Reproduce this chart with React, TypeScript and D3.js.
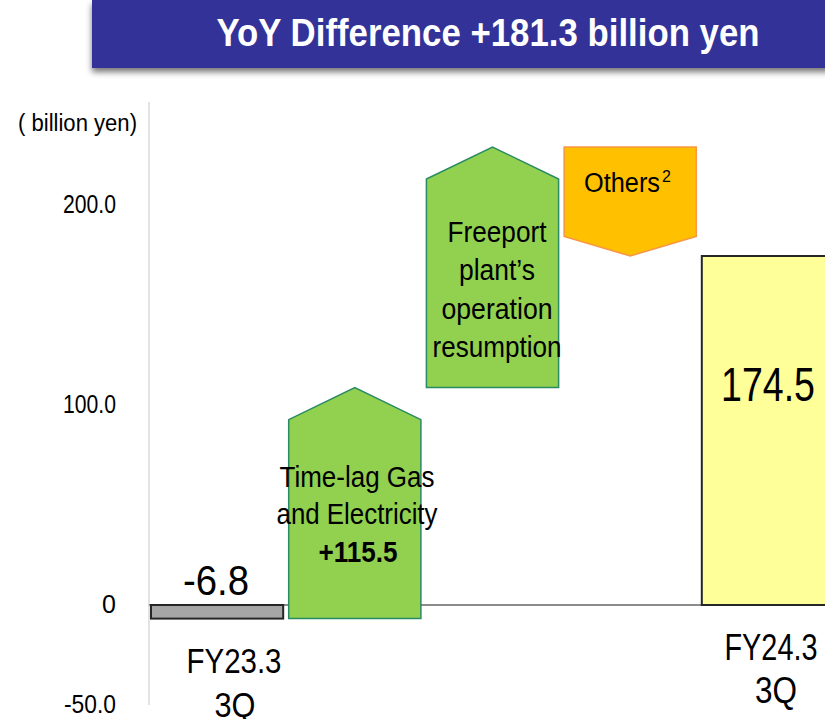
import React from "react";
import * as d3 from "d3";

// waterfall data (billion yen)
const categories = ["FY23.3 3Q", "Time-lag", "Freeport", "Others", "FY24.3 3Q"];
const kinds = ["total", "delta", "delta", "delta", "total"];
const values = [-6.8, 115.5, 120.3, -54.5, 174.5];
const yTicks = [-50, 0, 100, 200];

const W = 825, H = 719;
const font = "'Liberation Sans', Arial, sans-serif";

export default function App() {
  const x = d3.scaleBand().domain(categories).range([151, 834]).paddingInner(0.04).paddingOuter(0);
  const y = d3.scaleLinear().domain([-50, 250]).range([705, 105]);
  const fmt = (v: number) => (v === 0 ? "0" : d3.format(".1f")(v).replace("−", "-"));

  // running totals
  let run = 0;
  const bars = categories.map((c, i) => {
    const k = kinds[i];
    let from, to;
    if (k === "total") { from = 0; to = values[i]; run = values[i]; }
    else { from = run; to = run + values[i]; run = to; }
    return { c, k, v: values[i], from, to, i };
  });

  const arrow = (b: any) => {
    const x0 = x(b.c)!, x1 = x0 + x.bandwidth(), xm = (x0 + x1) / 2;
    const yFrom = y(b.from), yTo = y(b.to);
    const h = Math.abs(yFrom - yTo);
    const head = Math.min(32, h * 0.18);
    const dir = b.v > 0 ? 1 : -1; // up when positive
    const sh = yTo + dir * head;
    const p = d3.path();
    p.moveTo(x0, yFrom);
    p.lineTo(x0, sh);
    p.lineTo(xm, yTo);
    p.lineTo(x1, sh);
    p.lineTo(x1, yFrom);
    p.closePath();
    return p.toString();
  };

  const green = "#92d050", greenStroke = "#2a8a64";
  const tickW: Record<number, number> = { [-50]: 52, 100: 53, 200: 53 };

  return (
    <div style={{ position: "absolute", left: 0, top: 0 }}>
      <svg width={W} height={H} style={{ display: "block" }}>
        <defs>
          <filter id="sh" x="-5%" y="-20%" width="110%" height="160%">
            <feGaussianBlur in="SourceAlpha" stdDeviation="3" />
            <feOffset dx="0" dy="4" result="b" />
            <feComponentTransfer><feFuncA type="linear" slope="0.55" /></feComponentTransfer>
            <feMerge><feMergeNode /><feMergeNode in="SourceGraphic" /></feMerge>
          </filter>
        </defs>
        <rect x={92} y={0} width={760} height={68} fill="#333399" filter="url(#sh)" />
        <text x={488} y={46} textAnchor="middle" fill="#fff" fontFamily={font} fontWeight="bold" fontSize={38}
          textLength={543} lengthAdjust="spacingAndGlyphs">YoY Difference +181.3 billion yen</text>

        {/* y axis */}
        <text x={137} y={131} textAnchor="end" fontFamily={font} fontSize={23} textLength={119} lengthAdjust="spacingAndGlyphs">( billion yen)</text>
        <line x1={149} x2={149} y1={102} y2={705} stroke="#e3e3e3" strokeWidth={2} />
        {yTicks.map(t => (
          <text key={t} x={116} y={y(t) + 8} textAnchor="end" fontFamily={font} fontSize={25}
            textLength={tickW[t]} lengthAdjust="spacingAndGlyphs">{fmt(t)}</text>
        ))}
        <line x1={149} x2={W} y1={y(0)} y2={y(0)} stroke="#8c8c8c" strokeWidth={2} />

        {/* bars */}
        {bars.map(b => {
          const x0 = x(b.c)!;
          if (b.k === "total") {
            const top = Math.min(y(0), y(b.v)), hh = Math.abs(y(0) - y(b.v));
            return <rect key={b.c} x={x0} y={top} width={b.i === 4 ? 200 : x.bandwidth()} height={hh}
              fill={b.i === 0 ? "#a6a6a6" : "#ffff99"} stroke="#262626" strokeWidth={2} />;
          }
          const fill = b.v > 0 ? green : "#ffc000";
          const stroke = b.v > 0 ? greenStroke : "#f79646";
          return <path key={b.c} d={arrow(b)} fill={fill} stroke={stroke} strokeWidth={1.5} />;
        })}

        {/* total labels */}
        <text x={216} y={595} textAnchor="middle" fontFamily={font} fontSize={42}
          textLength={66} lengthAdjust="spacingAndGlyphs">{values[0].toFixed(1)}</text>
        <text x={768} y={401} textAnchor="middle" fontFamily={font} fontSize={48}
          textLength={94} lengthAdjust="spacingAndGlyphs">{values[4].toFixed(1)}</text>

        {/* category labels */}
        <g fontFamily={font} textAnchor="middle">
          <text x={234} y={673} fontSize={35} textLength={95} lengthAdjust="spacingAndGlyphs">FY23.3</text>
          <text x={235} y={717} fontSize={35} textLength={41} lengthAdjust="spacingAndGlyphs">3Q</text>
          <text x={771} y={660} fontSize={37} textLength={93} lengthAdjust="spacingAndGlyphs">FY24.3</text>
          <text x={776} y={703} fontSize={37} textLength={42} lengthAdjust="spacingAndGlyphs">3Q</text>
        </g>

        {/* arrow labels */}
        <g fontFamily={font} fontSize={30} textAnchor="middle">
          <text x={357} y={487} textLength={155} lengthAdjust="spacingAndGlyphs">Time-lag Gas</text>
          <text x={357} y={524} textLength={161} lengthAdjust="spacingAndGlyphs">and Electricity</text>
          <text x={358} y={562} fontWeight="bold" textLength={79} lengthAdjust="spacingAndGlyphs">+115.5</text>

          <text x={497} y={242} textLength={99} lengthAdjust="spacingAndGlyphs">Freeport</text>
          <text x={497} y={280} textLength={76} lengthAdjust="spacingAndGlyphs">plant’s</text>
          <text x={497} y={319} textLength={111} lengthAdjust="spacingAndGlyphs">operation</text>
          <text x={497} y={357} textLength={129} lengthAdjust="spacingAndGlyphs">resumption</text>

          <text x={622} y={192} fontSize={27} textLength={76} lengthAdjust="spacingAndGlyphs">Others</text>
          <text x={662} y={182} fontSize={16} textAnchor="start">2</text>
        </g>
      </svg>
    </div>
  );
}
